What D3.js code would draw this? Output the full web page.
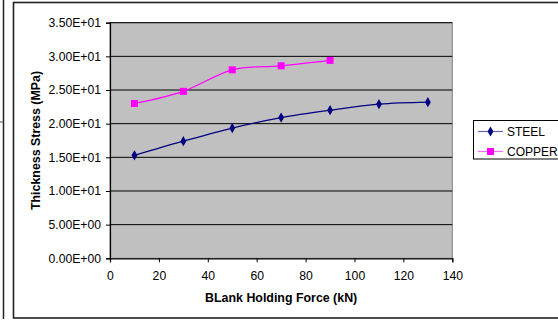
<!DOCTYPE html>
<html><head><meta charset="utf-8">
<script src="https://cdnjs.cloudflare.com/ajax/libs/d3/7.8.5/d3.min.js"></script>
<style>html,body{margin:0;padding:0;background:#fff;}svg{display:block;font-family:"Liberation Sans",Arial,sans-serif;}</style>
</head><body>
<script>
const forceSteel = [10, 30, 50, 70, 90, 110, 130];
const stressSteel = [15.3, 17.4, 19.35, 20.9, 22.0, 22.9, 23.2];
const forceCopper = [10, 30, 50, 70, 90];
const stressCopper = [23.0, 24.8, 28.0, 28.6, 29.4];
const seriesNames = ["STEEL", "COPPER"];
const seriesColors = ["#000080", "#FF00FF"];
const xTicks = [0, 20, 40, 60, 80, 100, 120, 140];
const yTicks = [0, 5, 10, 15, 20, 25, 30, 35];
const yTickLabels = ["0.00E+00","5.00E+00","1.00E+01","1.50E+01","2.00E+01","2.50E+01","3.00E+01","3.50E+01"];

const W = 558, H = 320;
const svg = d3.select("body").append("svg").attr("width", W).attr("height", H);

// left stub frame
svg.append("line").attr("x1",3.5).attr("x2",3.5).attr("y1",0).attr("y2",319).attr("stroke","#222").attr("stroke-width",1.5);
svg.append("line").attr("x1",0).attr("x2",3.5).attr("y1",122).attr("y2",122).attr("stroke","#555").attr("stroke-width",1);
// outer frame
svg.append("rect").attr("x",13.5).attr("y",2.5).attr("width",W).attr("height",315.5)
  .attr("fill","none").attr("stroke","#222").attr("stroke-width",1.6);

const L = 110, T = 22.7, R = 452.3, B = 258.3;
const x = d3.scaleLinear().domain([0,140]).range([L,R]);
const y = d3.scaleLinear().domain([0,35]).range([B,T]);

svg.append("rect").attr("x",L).attr("y",T).attr("width",R-L).attr("height",B-T)
  .attr("fill","#C0C0C0").attr("stroke","#808080").attr("stroke-width",1);

// gridlines
svg.append("g").selectAll("line").data(yTicks.filter(d=>d>0)).join("line")
  .attr("x1",L).attr("x2",R).attr("y1",d=>y(d)).attr("y2",d=>y(d))
  .attr("stroke","#000").attr("stroke-width",1);

// axes
const yAxis = d3.axisLeft(y).tickValues(yTicks).tickSize(4).tickPadding(5)
  .tickFormat((d,i)=>yTickLabels[i]);
const gy = svg.append("g").attr("transform",`translate(${L},0)`).call(yAxis);
const xAxis = d3.axisBottom(x).tickValues(xTicks).tickSize(4).tickPadding(9);
const gx = svg.append("g").attr("transform",`translate(0,${B})`).call(xAxis);
[gx,gy].forEach(g=>{
  g.select(".domain").attr("stroke","#000").attr("stroke-width",1.2);
  g.selectAll(".tick line").attr("stroke","#000");
  g.selectAll(".tick text").attr("font-size",12.2).attr("fill","#000")
   .attr("font-family","'Liberation Sans',Arial,sans-serif");
});

// titles
svg.append("text").attr("x",(L+R)/2).attr("y",302).attr("text-anchor","middle")
  .attr("font-weight","bold").attr("font-size",12.4).text("BLank Holding Force (kN)");
svg.append("text").attr("transform",`translate(39.5,${(T+B)/2}) rotate(-90)`).attr("text-anchor","middle")
  .attr("font-weight","bold").attr("font-size",12.4).text("Thickness Stress (MPa)");

const line = d3.line().x(d=>x(d[0])).y(d=>y(d[1])).curve(d3.curveCatmullRom.alpha(0));
const steelPts = forceSteel.map((f,i)=>[f,stressSteel[i]]);
const copperPts = forceCopper.map((f,i)=>[f,stressCopper[i]]);

svg.append("path").datum(steelPts).attr("d",line).attr("fill","none").attr("stroke",seriesColors[0]).attr("stroke-width",1.2);
svg.append("path").datum(copperPts).attr("d",line).attr("fill","none").attr("stroke",seriesColors[1]).attr("stroke-width",1.2);

const diamond = d3.symbol().type(d3.symbolDiamond).size(30);
svg.append("g").selectAll("path").data(steelPts).join("path")
  .attr("d",diamond).attr("transform",d=>`translate(${x(d[0])},${y(d[1])})`).attr("fill",seriesColors[0]);
svg.append("g").selectAll("rect").data(copperPts).join("rect")
  .attr("x",d=>x(d[0])-3.5).attr("y",d=>y(d[1])-3.5).attr("width",7).attr("height",7).attr("fill",seriesColors[1]);

// legend
const lg = svg.append("g");
lg.append("rect").attr("x",473.5).attr("y",120.5).attr("width",100).attr("height",38.5)
  .attr("fill","#fff").attr("stroke","#000").attr("stroke-width",1);
seriesNames.forEach((n,i)=>{
  const yy = 131.5 + i*20;
  lg.append("line").attr("x1",478).attr("x2",503).attr("y1",yy).attr("y2",yy)
    .attr("stroke",seriesColors[i]).attr("stroke-width",1.2).attr("opacity",0.6);
  if(i===0) lg.append("path").attr("d",diamond).attr("transform",`translate(490.5,${yy})`).attr("fill",seriesColors[0]);
  else lg.append("rect").attr("x",487).attr("y",yy-3.5).attr("width",7).attr("height",7).attr("fill",seriesColors[1]);
  lg.append("text").attr("x",507).attr("y",yy+4.5).attr("font-size",12).text(n);
});
</script>
</body></html>
